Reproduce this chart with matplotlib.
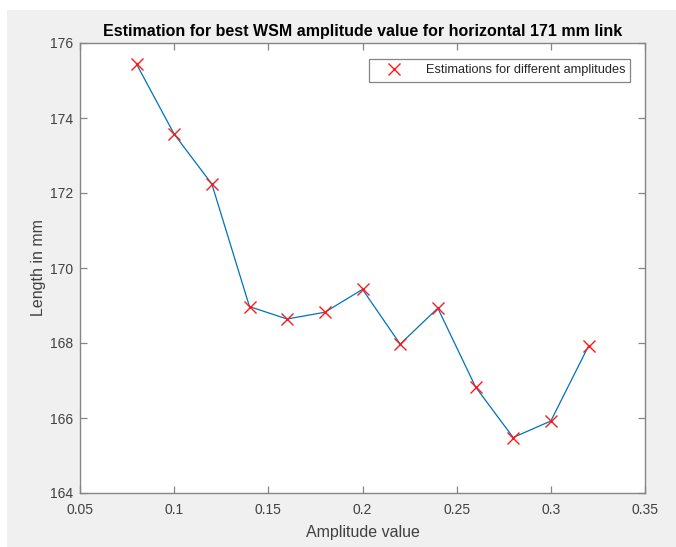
import matplotlib
matplotlib.use("Agg")
import matplotlib.pyplot as plt
from matplotlib.patches import Rectangle

# values
amplitude = [0.08, 0.10, 0.12, 0.14, 0.16, 0.18, 0.20, 0.22, 0.24, 0.26, 0.28, 0.30, 0.32]
length_mm = [175.44, 173.57, 172.24, 168.97, 168.64, 168.82, 169.43,
             167.97, 168.93, 166.83, 165.48, 165.92, 167.92]
xticks = [0.05, 0.1, 0.15, 0.2, 0.25, 0.3, 0.35]
xticklabels = ['0.05', '0.1', '0.15', '0.2', '0.25', '0.3', '0.35']
yticks = [164, 166, 168, 170, 172, 174, 176]

plt.rcParams['font.family'] = ['Liberation Sans', 'DejaVu Sans']

W, H = 676, 547
fig = plt.figure(figsize=(W / 100, H / 100), dpi=100)
fig.patch.set_facecolor('white')
# grey matlab window background
fig.patches.append(Rectangle((7 / W, 0), 1 - 7 / W, 1 - 10 / H, transform=fig.transFigure,
                             facecolor='#f0f0f0', edgecolor='none', zorder=-10))

ax = fig.add_axes([80 / W, (H - 493) / H, 565 / W, 450 / H])
ax.set_facecolor('white')

ax.plot(amplitude, length_mm, '-', color='#0072BD', lw=0.9)
ax.plot(amplitude, length_mm, 'x', color='#ff1a1a', ms=9, mew=1.0,
        label='Estimations for different amplitudes')

ax.set_xlim(0.05, 0.35)
ax.set_ylim(164, 176)
ax.set_xticks(xticks)
ax.set_xticklabels(xticklabels)
ax.set_yticks(yticks)

for s in ax.spines.values():
    s.set_color('#858585')
    s.set_linewidth(1.0)
ax.tick_params(direction='in', length=5, width=0.9, color='#858585',
               labelsize=10, labelcolor='#404040', top=True, right=True)
ax.tick_params(axis='x', pad=7)
ax.tick_params(axis='y', pad=5)

ax.set_title('Estimation for best WSM amplitude value for horizontal 171 mm link',
             fontsize=11.5, fontweight='bold', color='black', pad=5)
ax.set_xlabel('Amplitude value', fontsize=11.5, color='#404040', labelpad=6)
ax.set_ylabel('Length in mm', fontsize=11.5, color='#404040', labelpad=3)

leg = ax.legend(loc='upper right', fontsize=9.2, fancybox=False, framealpha=1,
                edgecolor='#858585', handlelength=3.0, borderpad=0.4,
                handletextpad=1.0, bbox_to_anchor=(0.985, 0.978))
leg.get_frame().set_linewidth(0.9)
for t in leg.get_texts():
    t.set_color('#262626')

fig.savefig('out.png', dpi=100)
